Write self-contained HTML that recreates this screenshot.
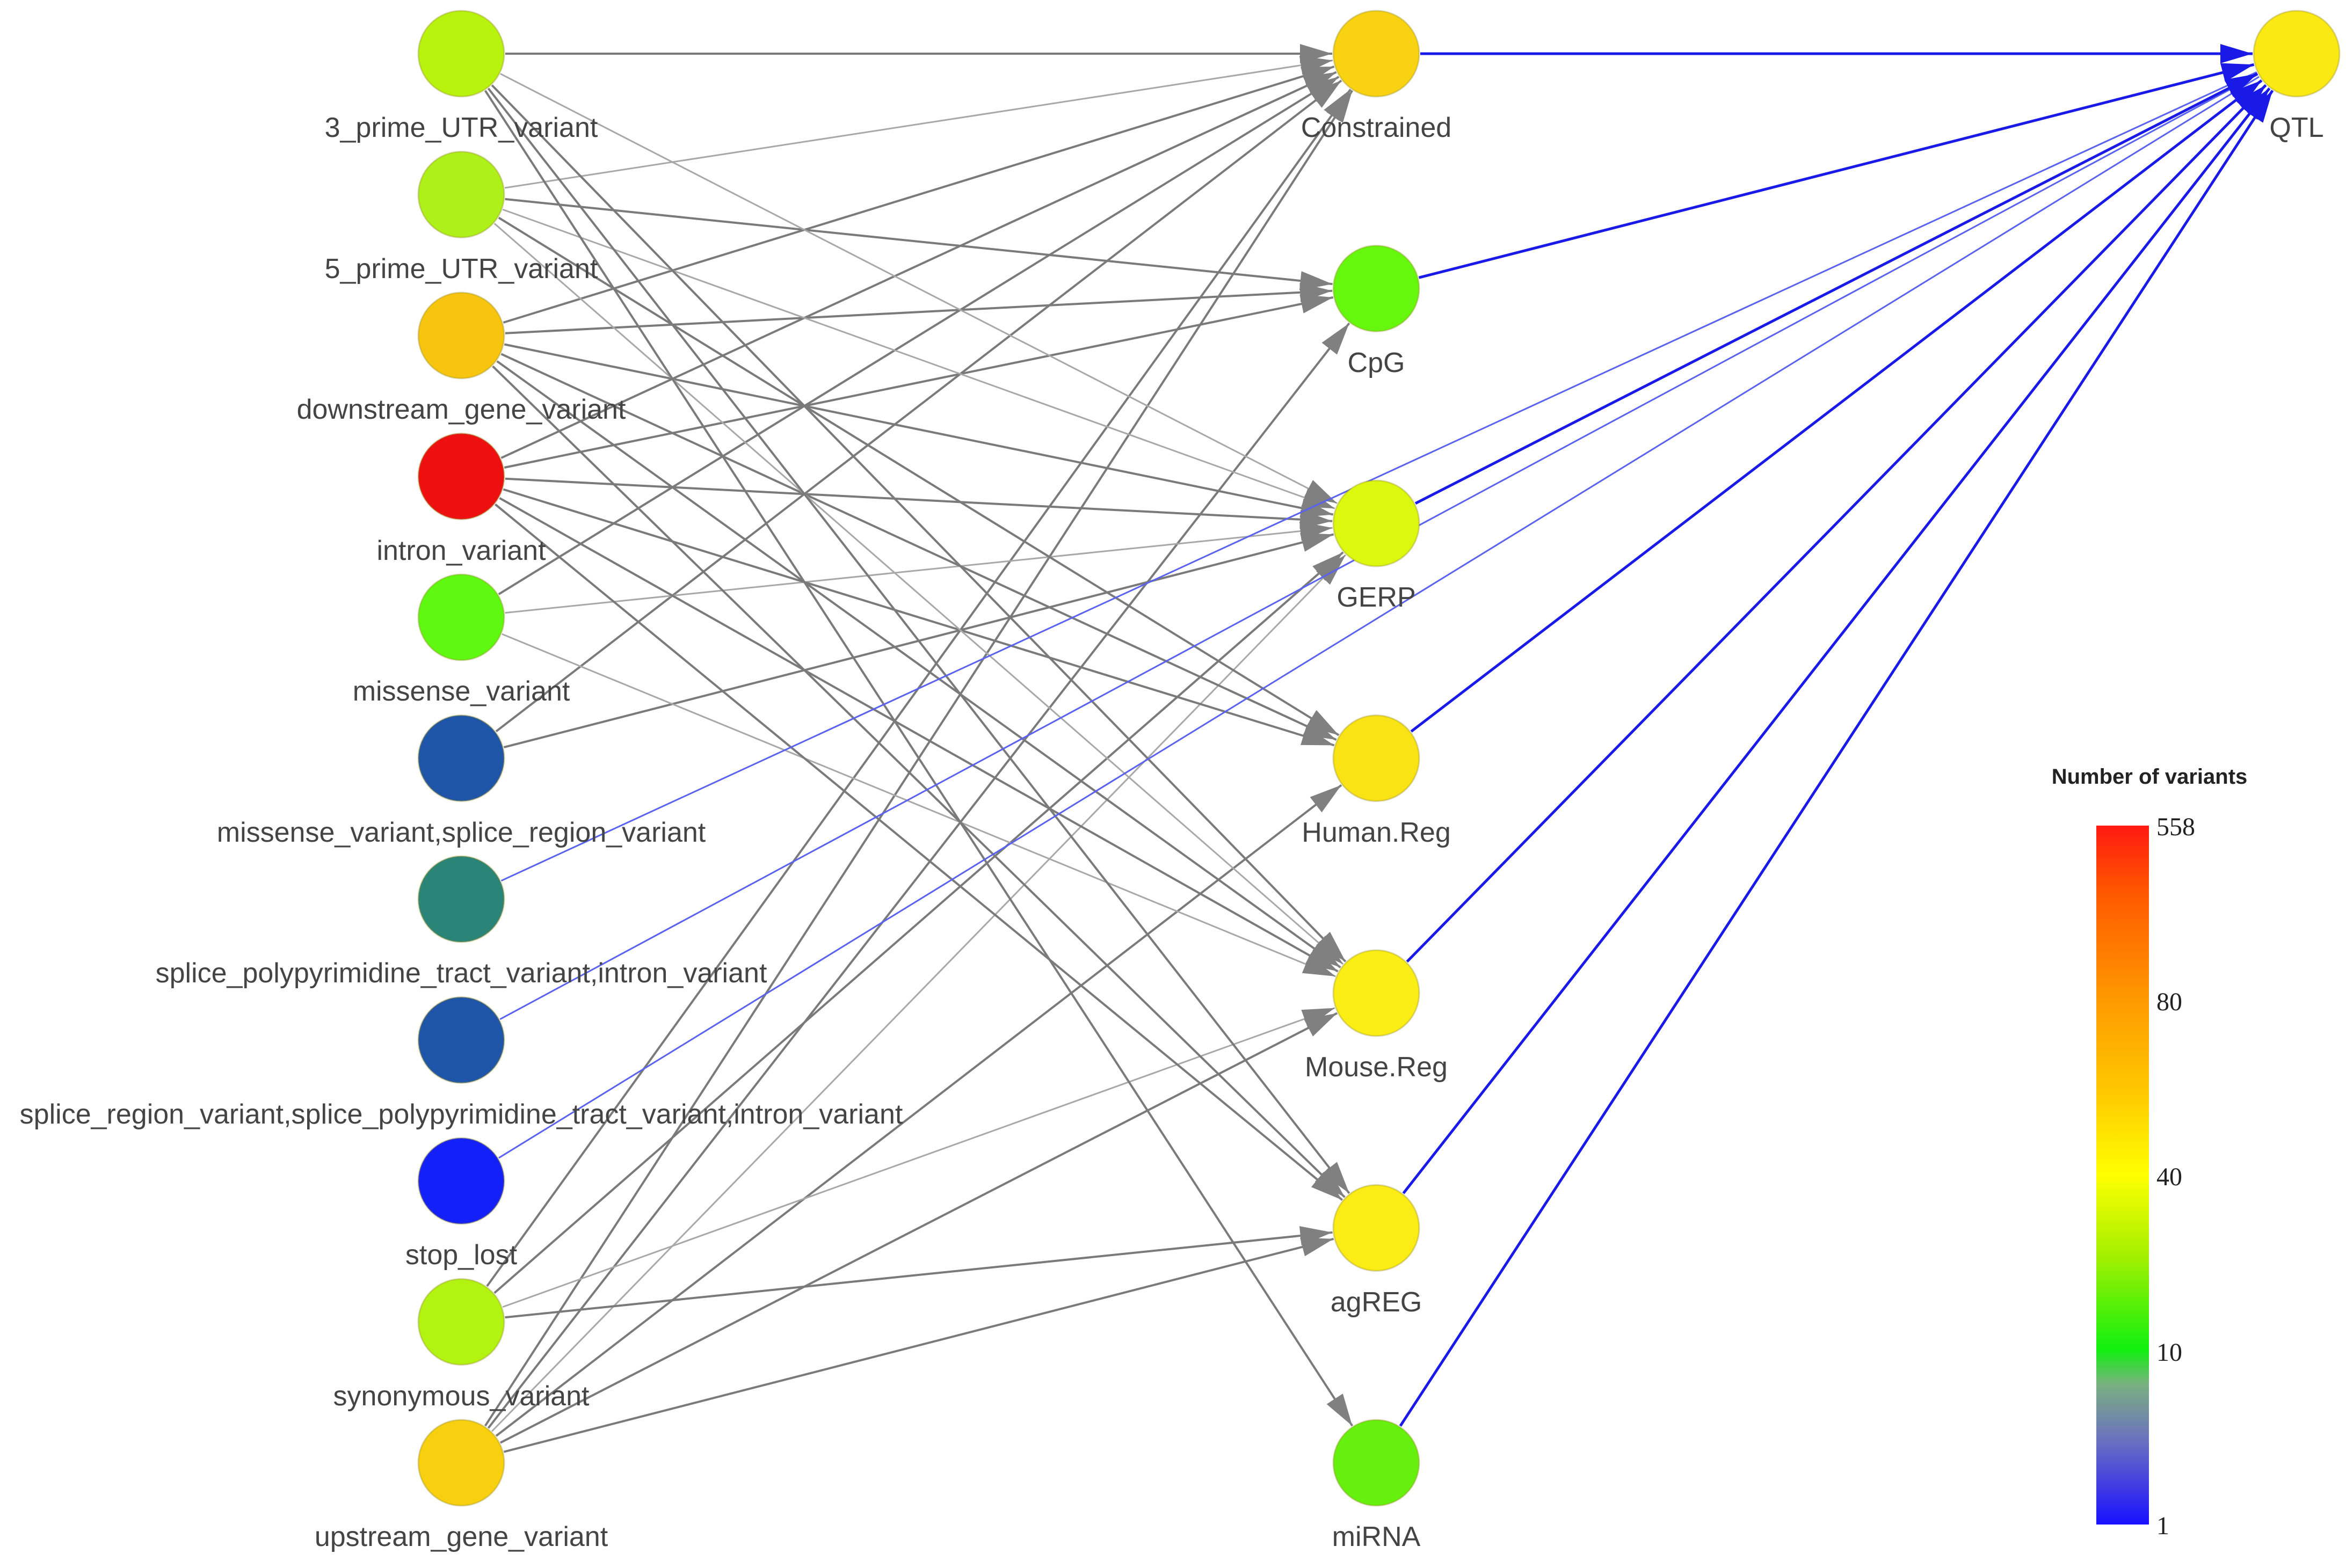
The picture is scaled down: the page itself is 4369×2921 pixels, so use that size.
<!DOCTYPE html>
<html><head><meta charset="utf-8">
<style>
html,body{margin:0;padding:0;background:#fff;}
svg{display:block;}
text{font-family:"Liberation Sans",Arial,sans-serif;}
text.sf{font-family:"Liberation Serif","Times New Roman",serif;}
</style></head>
<body>
<svg id="s" width="4369" height="2921" viewBox="0 0 4369 2921" xmlns="http://www.w3.org/2000/svg">
<defs>
<marker id="ag" viewBox="0 0 10 10" refX="10" refY="5" markerWidth="60" markerHeight="36" markerUnits="userSpaceOnUse" orient="auto" preserveAspectRatio="none"><path d="M0,0 L10,5 L0,10 z" fill="#808080"/></marker>
<marker id="ab" viewBox="0 0 10 10" refX="10" refY="5" markerWidth="60" markerHeight="36" markerUnits="userSpaceOnUse" orient="auto" preserveAspectRatio="none"><path d="M0,0 L10,5 L0,10 z" fill="#1a1ae8"/></marker>
<linearGradient id="lg" x1="0" y1="1" x2="0" y2="0">
<stop offset="0" stop-color="#1a10ff"/>
<stop offset="0.12" stop-color="#6a70c0"/>
<stop offset="0.2" stop-color="#7ab080"/>
<stop offset="0.25" stop-color="#10f010"/>
<stop offset="0.38" stop-color="#a0f000"/>
<stop offset="0.5" stop-color="#ffff00"/>
<stop offset="0.62" stop-color="#ffc800"/>
<stop offset="0.75" stop-color="#ff9a00"/>
<stop offset="0.9" stop-color="#ff5a00"/>
<stop offset="1" stop-color="#ff1a10"/>
</linearGradient>
</defs>
<g id="edges"></g>
<g id="nodes"></g>
<g font-size="52" fill="#444" text-anchor="middle">
<text x="859" y="255">3_prime_UTR_variant</text>
<text x="859" y="518">5_prime_UTR_variant</text>
<text x="859" y="780">downstream_gene_variant</text>
<text x="859" y="1043">intron_variant</text>
<text x="859" y="1305">missense_variant</text>
<text x="859" y="1568">missense_variant,splice_region_variant</text>
<text x="859" y="1830">splice_polypyrimidine_tract_variant,intron_variant</text>
<text x="859" y="2093">splice_region_variant,splice_polypyrimidine_tract_variant,intron_variant</text>
<text x="859" y="2355">stop_lost</text>
<text x="859" y="2618">synonymous_variant</text>
<text x="859" y="2880">upstream_gene_variant</text>
<text x="2563" y="255">Constrained</text>
<text x="2563" y="693">CpG</text>
<text x="2563" y="1130">GERP</text>
<text x="2563" y="1568">Human.Reg</text>
<text x="2563" y="2005">Mouse.Reg</text>
<text x="2563" y="2443">agREG</text>
<text x="2563" y="2880">miRNA</text>
<text x="4277" y="255">QTL</text>
</g>
<text x="4003" y="1460" font-size="40" font-weight="bold" fill="#222" text-anchor="middle">Number of variants</text>
<rect x="3904" y="1538" width="98" height="1302" fill="url(#lg)"/>
<g font-size="48" fill="#222">
<text class="sf" x="4016" y="1556">558</text>
<text class="sf" x="4016" y="1882">80</text>
<text class="sf" x="4016" y="2208">40</text>
<text class="sf" x="4016" y="2535">10</text>
<text class="sf" x="4016" y="2858">1</text>
</g>
</svg>
<script>
var L=[["a",100,"#b8f20f"],["b",362.5,"#adf01a"],["c",625,"#f7c510"],["d",887.5,"#ee1010"],["e",1150,"#5ef810"],["f",1412.5,"#1f55a8"],["g",1675,"#2a8478"],["h",1937.5,"#1f55a8"],["i",2200,"#1420f8"],["j",2462.5,"#b2f312"],["k",2725,"#f8d010"]];
var M=[["C",100,"#f9d312"],["P",537.5,"#66f70e"],["G",975,"#dcf80e"],["H",1412.5,"#fae314"],["Mo",1850,"#fbee14"],["A",2287.5,"#faec14"],["R",2725,"#66f00e"]];
var pos={};L.forEach(function(n){pos[n[0]]=[859,n[1]];});M.forEach(function(n){pos[n[0]]=[2563,n[1]];});pos.Q=[4277,100];
var E=[["a","C",1],["b","C",0],["c","C",1],["d","C",1],["e","C",1],["f","C",1],["j","C",1],["k","C",1],
["b","P",1],["c","P",1],["d","P",1],["k","P",1],
["a","G",0],["b","G",0],["c","G",1],["d","G",1],["e","G",0],["f","G",1],["j","G",1],["k","G",0],
["b","H",1],["c","H",1],["d","H",1],["k","H",1],
["a","Mo",1],["b","Mo",0],["c","Mo",1],["d","Mo",1],["e","Mo",0],["j","Mo",0],["k","Mo",1],
["a","A",1],["c","A",1],["d","A",1],["j","A",1],["k","A",1],
["a","R",1]];
var ns="http://www.w3.org/2000/svg",eg=document.getElementById("edges"),ng=document.getElementById("nodes");
function line(s,t,col,w,mk){var p=pos[s],q=pos[t];var dx=q[0]-p[0],dy=q[1]-p[1],d=Math.sqrt(dx*dx+dy*dy);var r=82;
var l=document.createElementNS(ns,"line");l.setAttribute("x1",p[0]+dx/d*r);l.setAttribute("y1",p[1]+dy/d*r);l.setAttribute("x2",q[0]-dx/d*r);l.setAttribute("y2",q[1]-dy/d*r);
l.setAttribute("stroke",col);l.setAttribute("stroke-width",w);if(mk)l.setAttribute("marker-end","url(#"+mk+")");eg.appendChild(l);}
E.forEach(function(e){line(e[0],e[1],e[2]?"#7a7a7a":"#a8a8a8",e[2]?4:3,"ag");});
["g","h","i"].forEach(function(s){line(s,"Q","#5a62f0",3,null);});
M.forEach(function(m){line(m[0],"Q","#1a1ae8",5,"ab");});
function node(x,y,c){var e=document.createElementNS(ns,"circle");e.setAttribute("cx",x);e.setAttribute("cy",y);e.setAttribute("r",80);e.setAttribute("fill",c);e.setAttribute("stroke","rgba(150,140,40,0.35)");e.setAttribute("stroke-width",3);ng.appendChild(e);}
L.forEach(function(n){node(859,n[1],n[2]);});M.forEach(function(n){node(2563,n[1],n[2]);});node(4277,100,"#fbe914");
</script>
</body></html>
